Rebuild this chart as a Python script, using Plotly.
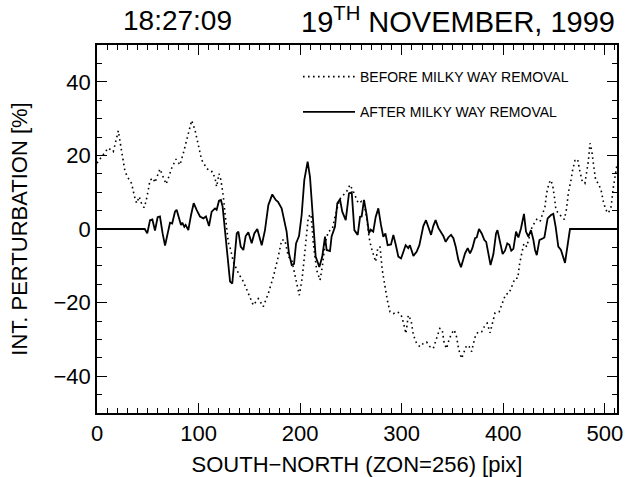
import plotly.graph_objects as go

# ---- data -------------------------------------------------------------
before_x = [0, 4.6, 11, 16, 21, 24, 27.6, 30.8, 34, 37.4, 39, 41.6, 43, 46.3, 48.2, 50.5, 52.2, 55.4, 57,
            62, 65.3, 68, 70.2, 73.5, 77.8, 81.7, 85, 88.3, 90.9, 93.2, 96.5, 99.7, 103, 108, 111.3, 113.5,
            116.2, 117.8, 120.1, 122, 124.4, 126, 127.7, 129.3, 131.5, 134.2, 139.2, 144.1, 149, 153.9,
            158.8, 163.7, 168.7, 173.6, 178.5, 181.8, 185, 188.4, 191.7, 195.6, 199.2, 202.2, 205.5, 208.1,
            210.7, 213, 216.3, 219.6, 221.8, 224.5, 227.8, 231.7, 234.3, 237.6, 238.9, 245.8, 249.1, 252.4,
            255.8, 257.3, 260.6, 263, 265.5, 267.8, 269.8, 272, 274.4, 276.4, 278.7, 280.9, 283.5, 285.8,
            288.5, 291.8, 295.1, 297.8, 300.3, 302.6, 304.2, 306.5, 309.2, 311.5, 314.7, 318, 321.3, 324.5,
            327.8, 331.1, 334.4, 337.6, 339.9, 341.9, 344.2, 346.5, 349.1, 351.7, 354, 356.3, 359, 361.3,
            363.9, 366.5, 368.9, 370.6, 372.9, 375.5, 378.8, 382.1, 384.2, 387, 389.3, 391.9, 395.9, 399.2,
            402.4, 405.7, 408.4, 411.6, 414.3, 415.9, 418.2, 420.4, 423.1, 425.4, 428, 430.6, 432.9, 436.2,
            438.5, 441.1, 442.7, 445, 446.7, 448.6, 450.3, 451.9, 454.2, 456.8, 460.1, 462.4, 464, 466.7,
            468.3, 470.6, 473.2, 475.5, 477.8, 480.4, 482.1, 483.7, 485.4, 487, 488.7, 491, 493.6, 496.3,
            498.6, 500.9, 503.5, 506.2, 508.5, 510.8, 512]
before_y = [17.9, 19.7, 22, 21, 26.7, 21.5, 15.6, 13.8, 12.4, 8.3, 7, 8.8, 7.4, 5.8, 7.4, 10.6, 13.3, 13.8, 12.6,
            16.3, 13.8, 12.2, 13.8, 16.5, 19, 17.4, 20.6, 24.2, 27.4, 29.5, 26.9, 22.4, 18.8, 16.5, 15.6, 15.6,
            13.8, 11.5, 15, 13.3, 8.8, 4.3, -0.7, -3.7, -5.5, -8.9, -12, -14.3, -17.5, -20.7,
            -18.9, -21.1, -17.5, -13, -7.5, -3, -3, -7.5, -8.4, -13, -18, -13, -3.9, 3.3,
            4, -3.9, -11.2, -13.9, -10.3, -3.9, -0.7, 0, 3.3, 7, 8.1, 10.2, 12, 10.2,
            7.9, 7, 7.5, 6.5, 3.3, -2.1, -4.8, -7.1, -8.9, -5.3, -4.8, -11.2, -15.7, -19.3,
            -22.5, -23, -22.5, -22.8, -23.9, -27, -28.4, -23.4, -24.8, -28.8, -31.1, -32, -31.1, -30.7,
            -32, -32.5, -29.7, -27, -27.4, -31.1, -32.5, -30.2, -28.4, -27.4, -29.3, -32.9, -35.2, -33.3,
            -31.6, -32, -33.3, -31.1, -28.8, -27.9, -27.9, -26.1, -25.6, -28.2, -25.7, -22.8, -22.5, -19.8,
            -17.7, -17.5, -15.5, -13.4, -13.4, -9.8, -6.6, -3.9, -4.8, -2.1, 0.2, 1.6, 2.6, 2,
            3.8, 6.1, 9.7, 12.4, 13.3, 12, 8.8, 5.2, 4.3, 3.6, 2.6, 5.6, 9.7, 13.3,
            16, 18.6, 19, 15.6, 12.9, 12.4, 15.2, 18.3, 23.3, 21.5, 17.9, 13.3, 12.4, 10.6,
            7.4, 5.2, 4.3, 6.1, 11.5, 15.6, 17.5]

after_x = [0, 47, 49.5, 52.2, 54.5, 57.1, 59.7, 62, 64.6, 67, 69.6, 71.9, 74, 76.8, 78.4, 80.7, 82.7, 84, 86,
           87.3, 89.9, 92.6, 95.2, 98.1, 101.4, 104.7, 107.3, 110.3, 112.9, 116.2, 117.8, 120.1, 122, 123.7,
           126, 127.7, 129.3, 131, 133.2, 135.2, 137.6, 139.2, 141.5, 144.1, 146.4, 149, 152.3, 154.9, 157.8,
           162.2, 165.4, 168.7, 172.6, 176, 178.2, 181.8, 184.4, 186.7, 189, 191.7, 194, 196, 198.9, 201.5,
           204.1, 207.4, 209.7, 212, 215.3, 218.9, 221.8, 224.5, 226.1, 229.4, 231, 234.3, 236.6, 239.2,
           241.5, 244.9, 248.1, 250.8, 253.4, 256.7, 259, 260.6, 262.9, 265.5, 267.8, 269.5, 272, 274.4,
           277, 279.6, 281.9, 284, 286.2, 289.5, 291.8, 294.1, 296.7, 299.4, 301.6, 303.9, 306.5, 308.1,
           311.5, 314.7, 317.4, 319.6, 321.3, 323.9, 326.2, 328.9, 331.1, 333.4, 336.1, 338.7, 341, 343.3,
           345.9, 348.6, 350.9, 353.2, 355.8, 358.4, 360.7, 362.4, 365, 367.3, 369.6, 372.2, 373.9, 376.1,
           378.8, 381.4, 383.2, 384.8, 387.5, 390.3, 392.9, 394.3, 396.9, 399.4, 401.7, 404, 406, 407.9,
           410, 412.6, 414.9, 417.5, 420.4, 422.4, 424.7, 427.3, 429.7, 431.3, 433, 435.6, 438, 440.5,
           443.7, 447, 449.3, 451.6, 454.2, 456.8, 460.8, 463.4, 465.7, 512]
after_y = [0, 0, -1.2, 2.4, 2.6, -0.4, 3.2, 3.4, -1.2, -4.5, -1.2, 1.7, 1.5, 4.7, 5.2, 2.9, 1.1, 1.7, 0.6,
           1.1, -0.3, 3.8, 7, 5.2, 3.4, 2.9, 3.4, 0.8, 4.7, 5.6, 5.2, 7.7, 7.9, 6.1,
           -0.5, -5.7, -9, -14.3, -14.8, -7.5, -1.2, -0.7, -4.8, -5.7, -1.9, -0.9, -3.9, -1.2, 0,
           -4.4, -0.3, 6.5, 9.4, 7.9, 7.4, 5.6, 2.4, -0.7, -6.6, -9.8, -9.5, -3.9, -1.9, 3.8,
           13.3, 18.3, 14.2, 5.2, -7.5, -10.3, -7.5, -2.1, -5.7, -6, -2, 0.6, 7, 8.1,
           4.7, 2.4, 9.7, 10, -0.3, -1.6, 3.3, 3.4, 7.9, 3.8, -1.2, -0.2, -0.7, 3.3,
           5.6, 1.1, -2.1, -1.2, -4.4, -4.2, -1.6, -4.2, -7.5, -8, -6.2, -4.4, -5.2, -4.4,
           -7.3, -6.2, -4.4, -1.2, 0.8, 2.4, 0.6, -1.6, 0.8, 2.4, 0.3, -0.7, -1.9, -3.5,
           -2.3, -1.6, -2.5, -4.8, -8.4, -10.4, -8.4, -6.6, -5.2, -6.6, -5.2, -2.5, -2.3, 0,
           -1.2, -3, -3.5, -5.7, -9.8, -6.8, -1.2, -0.3, -3.7, -6.8, -5.9, -3.9, -4.3, -5.9,
           -5.4, -0.7, -2.3, 0.2, 4.1, -0.7, -2.1, -0.3, -3, -5.7, -7.1, -3, -2.7, -2.3,
           2.9, 3.8, 4.1, 0.6, -4.8, -5.7, -9.2, -3.7, 0, 0]

series_names = ["BEFORE MILKY WAY REMOVAL", "AFTER MILKY WAY REMOVAL"]
title_time = "18:27:09"
title_date = "19<sup>TH</sup> NOVEMBER, 1999"
x_title = "SOUTH−NORTH (ZON=256) [pix]"
y_title = "INT. PERTURBATION [%]"
x_ticks = [0, 100, 200, 300, 400, 500]
y_ticks = [-40, -20, 0, 20, 40]

FONT = "Liberation Sans"

fig = go.Figure()
fig.add_trace(go.Scatter(x=before_x, y=before_y, mode="lines", name=series_names[0],
                         legendgroup="a",
                         line=dict(color="black", width=1.6, dash="1.6px,3.4px")))
fig.add_trace(go.Scatter(x=after_x, y=after_y, mode="lines", name=series_names[1],
                         legendgroup="b",
                         line=dict(color="black", width=1.8)))

axis_common = dict(showline=True, linecolor="black", linewidth=1.5, mirror="ticks",
                   ticks="inside", tickcolor="black", tickwidth=1.2, ticklen=10,
                   showgrid=False, zeroline=False, automargin=False,
                   tickfont=dict(family=FONT, size=22, color="black"))

fig.update_xaxes(range=[0, 512], tickvals=x_ticks,
                 minor=dict(dtick=10, ticks="inside", ticklen=5, tickcolor="black", tickwidth=1.2),
                 title=dict(text=x_title, font=dict(family=FONT, size=22, color="black"), standoff=12),
                 **axis_common)
fig.update_yaxes(range=[-50, 50], tickvals=y_ticks,
                 minor=dict(dtick=5, ticks="inside", ticklen=5, tickcolor="black", tickwidth=1.2),
                 title=dict(text=y_title, font=dict(family=FONT, size=22, color="black"), standoff=20),
                 **axis_common)

fig.add_annotation(text=title_time, xref="paper", yref="paper", x=(177 - 97) / 520, y=1 + 25 / 368,
                   xanchor="center", yanchor="middle", showarrow=False,
                   font=dict(family=FONT, size=28, color="black"))
fig.add_annotation(text=title_date, xref="paper", yref="paper", x=(299 - 97) / 520, y=1 + 25 / 368,
                   xanchor="left", yanchor="middle", showarrow=False,
                   font=dict(family=FONT, size=29, color="black"))

fig.update_layout(
    width=627, height=477,
    margin=dict(l=97, r=10, t=45, b=64, autoexpand=False),
    paper_bgcolor="white", plot_bgcolor="white",
    showlegend=True,
    legend=dict(x=(298 - 97) / 520, y=1 - 16 / 368, xanchor="left", yanchor="top",
                bgcolor="rgba(0,0,0,0)", borderwidth=0, itemwidth=52,
                tracegroupgap=14,
                font=dict(family=FONT, size=14, color="black")),
)

fig.write_html("out.html", config={"displayModeBar": False},
               post_script="document.body.style.margin='0';")
